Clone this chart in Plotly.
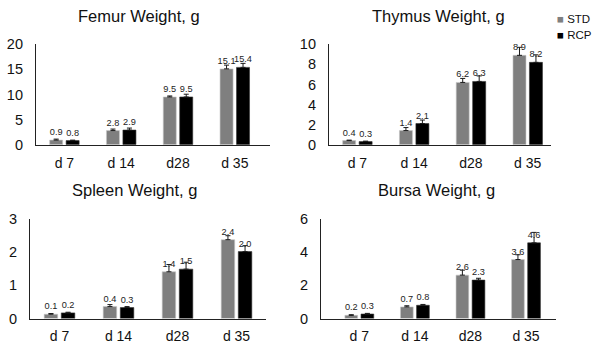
import plotly.graph_objects as go

W, H = 598, 359
categories = ["d 7", "d 14", "d28", "d 35"]

titles = ["Femur Weight, g", "Thymus Weight, g", "Spleen Weight, g", "Bursa Weight, g"]

femur_std = [0.9, 2.8, 9.5, 15.1]
femur_rcp = [0.8, 2.9, 9.5, 15.4]
femur_std_err = [0.2, 0.3, 0.2, 0.75]
femur_rcp_err = [0.1, 0.4, 0.55, 0.8]

thymus_std = [0.4, 1.4, 6.2, 8.9]
thymus_rcp = [0.3, 2.1, 6.3, 8.2]
thymus_std_err = [0.05, 0.3, 0.4, 0.8]
thymus_rcp_err = [0.05, 0.35, 0.55, 0.75]

spleen_std = [0.13, 0.36, 1.41, 2.38]
spleen_rcp = [0.17, 0.33, 1.49, 2.02]
spleen_std_err = [0.02, 0.06, 0.22, 0.12]
spleen_rcp_err = [0.02, 0.03, 0.21, 0.18]

bursa_std = [0.19, 0.70, 2.62, 3.56]
bursa_rcp = [0.27, 0.80, 2.32, 4.57]
bursa_std_err = [0.04, 0.07, 0.3, 0.29]
bursa_rcp_err = [0.04, 0.05, 0.11, 0.63]

y_ranges = [[0, 20], [0, 10], [0, 3], [0, 6]]
y_dtick = [5, 2, 1, 2]

series_names = ["STD", "RCP"]

panels = [
    (femur_std, femur_rcp, femur_std_err, femur_rcp_err),
    (thymus_std, thymus_rcp, thymus_std_err, thymus_rcp_err),
    (spleen_std, spleen_rcp, spleen_std_err, spleen_rcp_err),
    (bursa_std, bursa_rcp, bursa_std_err, bursa_rcp_err),
]

# pixel layout: (x_left, x_right, y_top, y_bottom)
px = [(36, 270, 38, 143), (329, 551, 38, 143), (30, 266, 221, 325), (321, 556, 221, 325)]
x_ranges = [[-0.5, 3.62], [-0.5, 3.41], [-0.5, 3.5], [-0.69, 3.54]]

STD_COLOR = "#7f7f7f"
RCP_COLOR = "#000000"
FONT = "Arial, Liberation Sans, sans-serif"

fig = go.Figure()
for i, (s, r, se, re_) in enumerate(panels):
    xa = "x" if i == 0 else f"x{i+1}"
    ya = "y" if i == 0 else f"y{i+1}"
    for name, vals, errs, col in ((series_names[0], s, se, STD_COLOR), (series_names[1], r, re_, RCP_COLOR)):
        fig.add_trace(go.Bar(
            x=categories, y=vals, name=name, xaxis=xa, yaxis=ya,
            marker=dict(color=col, line=dict(color="#c8c8c8" if name == "STD" else "#333333", width=0.6)),
            error_y=dict(type="data", array=errs, symmetric=False, arrayminus=[0]*len(errs),
                         color="#1a1a1a", thickness=1, width=2.5),
            text=[f"{v:.1f}" for v in vals], textposition="outside", constraintext="none",
            textfont=dict(size=9.2, color="#222222", family=FONT),
            cliponaxis=False, showlegend=False,
        ))

annotations = []
for i in range(4):
    xl, xr, yt, yb = px[i]
    annotations.append(dict(
        text=titles[i], xref="paper", yref="paper",
        x=((xl + xr) / 2 - 14) / W if i % 2 == 0 else ((xl + xr) / 2 - 2) / W,
        y=(H - (yt - 30)) / H, xanchor="center", yanchor="middle", showarrow=False,
        font=dict(size=16.5, color="#111111", family=FONT)))

for k, (name, col) in enumerate(zip(series_names, [STD_COLOR, RCP_COLOR])):
    annotations.append(dict(
        text=f"<span style='color:{col}'>■</span> {name}", xref="paper", yref="paper",
        x=555 / W, y=(H - (11 + 17 * k)) / H, xanchor="left", yanchor="middle",
        showarrow=False, font=dict(size=11.5, color="#111111", family=FONT)))

layout = dict(
    width=W, height=H, margin=dict(l=0, r=0, t=0, b=0), autosize=False,
    paper_bgcolor="white", plot_bgcolor="white",
    barmode="group", bargap=0.42, bargroupgap=0.21,
    font=dict(family=FONT, color="#111111"),
    showlegend=False,
    annotations=annotations,
)
for i in range(4):
    xl, xr, yt, yb = px[i]
    xk = "xaxis" if i == 0 else f"xaxis{i+1}"
    yk = "yaxis" if i == 0 else f"yaxis{i+1}"
    ya = "y" if i == 0 else f"y{i+1}"
    xa = "x" if i == 0 else f"x{i+1}"
    layout[xk] = dict(domain=[xl / W, xr / W], range=x_ranges[i], anchor=ya,
                      showline=True, linecolor="#222222", linewidth=1.2,
                      ticks="", showgrid=False, tickfont=dict(size=14, color="#111111"),
                      ticklabelstandoff=5, fixedrange=True)
    layout[yk] = dict(domain=[(H - yb) / H, (H - yt) / H], range=y_ranges[i], anchor=xa,
                      dtick=y_dtick[i], showline=True, linecolor="#222222", linewidth=1.2,
                      ticks="", showgrid=False, zeroline=False,
                      tickfont=dict(size=14.5, color="#111111"),
                      ticklabelstandoff=9, fixedrange=True)

fig.update_layout(**layout)
fig.write_html("out.html", config={"displayModeBar": False},
               post_script="document.body.style.margin='0';document.body.style.overflow='hidden';")
